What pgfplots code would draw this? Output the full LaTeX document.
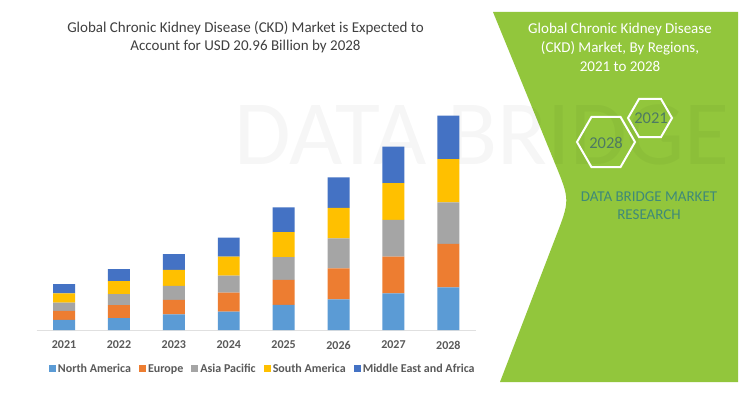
\documentclass[border=0pt]{standalone}
\usepackage{pgfplots}
\pgfplotsset{compat=1.18}
\usepackage{fontspec}
\setmainfont{Carlito}
\definecolor{na}{HTML}{5B9BD5}
\definecolor{eu}{HTML}{ED7D31}
\definecolor{ap}{HTML}{A5A5A5}
\definecolor{sa}{HTML}{FFC000}
\definecolor{mea}{HTML}{4472C4}
\definecolor{panel}{RGB}{146,198,60}
\definecolor{txt}{HTML}{404040}
\definecolor{tick}{HTML}{595959}
\definecolor{dbmr}{HTML}{3F8A78}
\definecolor{hextxt}{HTML}{4E7A62}
\begin{document}
\begin{tikzpicture}[x=1pt,y=1pt]
\path[use as bounding box] (0,0) rectangle (744,392);
\fill[white] (0,0) rectangle (744,392);
% green panel
\fill[panel] (493,380) -- (554.8,229) .. controls (570,192) .. (555.6,154.7) -- (500,10) -- (738,10) -- (738,380) -- cycle;
% faint watermark
\node[text=black, opacity=0.035, font=\fontsize{92}{92}\selectfont, anchor=center] at (482,257) {DATA BRIDGE};
\node[text=white, font=\fontsize{15}{19}\selectfont, align=center] at (620,345) {Global Chronic Kidney Disease\\(CKD) Market, By Regions,\\2021 to 2028};
\draw[white, line width=2pt, shift={(650,274)}] (0:22) -- (60:22) -- (120:22) -- (180:22) -- (240:22) -- (300:22) -- cycle;
\draw[white, line width=2pt, shift={(606,250)}] (0:29) -- (60:29) -- (120:29) -- (180:29) -- (240:29) -- (300:29) -- cycle;
\node[text=hextxt, font=\fontsize{16.5}{16.5}\selectfont] at (651,274) {2021};
\node[text=hextxt, font=\fontsize{16.5}{16.5}\selectfont] at (606,249) {2028};
\node[text=dbmr, font=\fontsize{15}{18}\selectfont, align=center] at (649,186) {DATA BRIDGE MARKET\\RESEARCH};
% title
\node[text=txt, font=\fontsize{15}{18}\selectfont, align=center] at (245.5,355) {Global Chronic Kidney Disease (CKD) Market is Expected to\\Account for USD 20.96 Billion by 2028};
\begin{axis}[
  at={(36.6pt,62pt)}, anchor=south west, scale only axis,
  width=439.2pt, height=225pt,
  xmin=-0.5, xmax=7.5, ymin=0, ymax=22,
  ybar stacked, bar width=0.4,
  axis x line*=bottom, axis y line=none,
  x axis line style={-, draw=black!12, line width=0.8pt},
  xtick={0,...,7}, xticklabels={2021,2022,2023,2024,2025,2026,2027,2028},
  major tick length=0pt,
  xticklabel style={font=\fontsize{12}{12}\selectfont\bfseries, text=tick, yshift=-7.5pt},
  legend columns=5,
  legend style={draw=none, fill=none, at={(0.515,-0.173)}, anchor=center,
    font=\fontsize{12}{12}\selectfont\bfseries, text=tick,
    /tikz/every even column/.append style={column sep=6pt}},
  legend image code/.code={\fill[#1] (0pt,-3.5pt) rectangle (7pt,3.5pt);},
]
\addplot[fill=na, draw=none] coordinates {(0,0.98) (1,1.17) (2,1.54) (3,1.79) (4,2.45) (5,3.00) (6,3.59) (7,4.18)};
\addplot[fill=eu, draw=none] coordinates {(0,0.88) (1,1.27) (2,1.40) (3,1.86) (4,2.45) (5,3.03) (6,3.58) (7,4.23)};
\addplot[fill=ap, draw=none] coordinates {(0,0.81) (1,1.08) (2,1.37) (3,1.66) (4,2.22) (5,2.93) (6,3.59) (7,4.08)};
\addplot[fill=sa, draw=none] coordinates {(0,0.91) (1,1.27) (2,1.56) (3,1.86) (4,2.45) (5,2.99) (6,3.59) (7,4.23)};
\addplot[fill=mea, draw=none] coordinates {(0,0.91) (1,1.17) (2,1.54) (3,1.86) (4,2.41) (5,2.97) (6,3.58) (7,4.24)};
\legend{North America, Europe, Asia Pacific, South America, Middle East and Africa}
\end{axis}
\end{tikzpicture}
\end{document}
